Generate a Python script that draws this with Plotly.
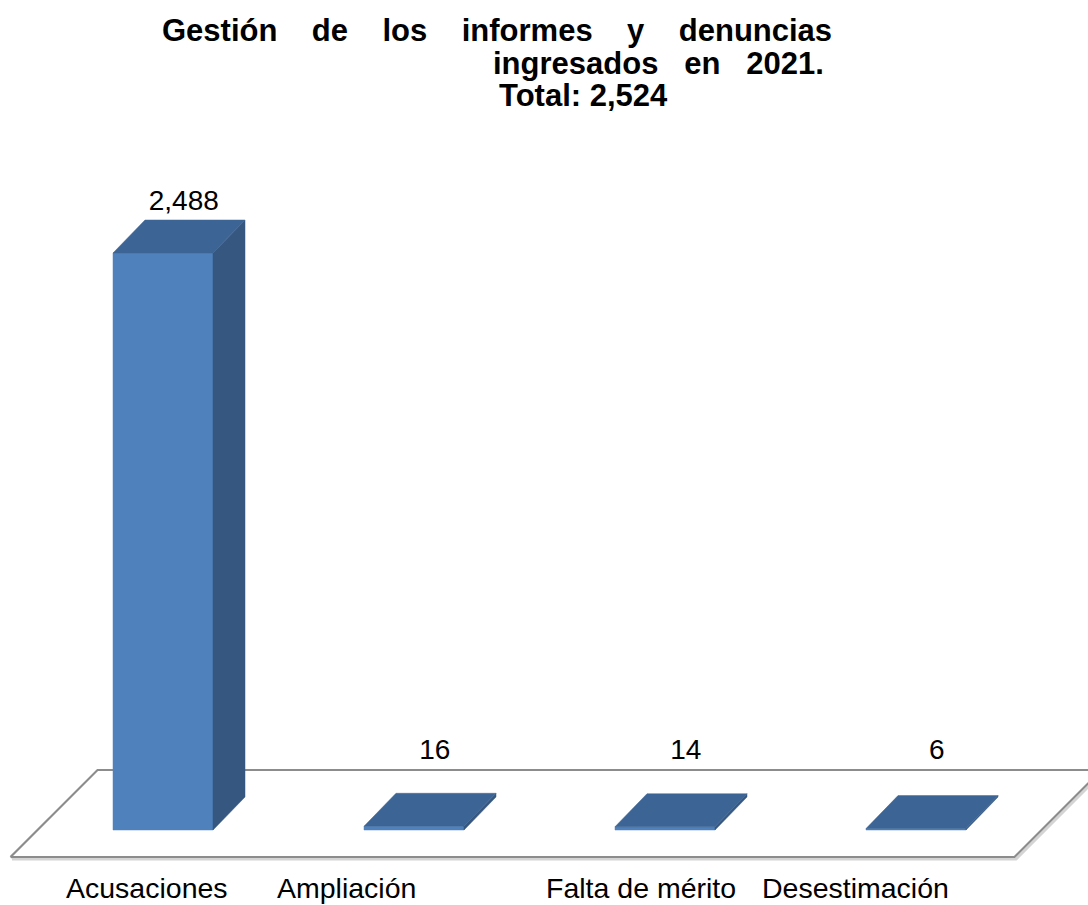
import plotly.graph_objects as go

# ---- data ----
categories = ["Acusaciones", "Ampliación", "Falta de mérito", "Desestimación"]
values = [2488, 16, 14, 6]
value_labels = ["2,488", "16", "14", "6"]
title_lines = ["Gestión de los informes y denuncias", "ingresados en 2021.", "Total: 2,524"]

# ---- geometry / style (pixel-derived scales) ----
W, H = 1088, 905
PX_PER_X = 251.0          # pixels per category step
PX_PER_Y = 577.0 / 2488   # pixels per value unit
X0_PX, Y0_PX = 163.0, 830.0
xrange_ = [-X0_PX / PX_PER_X, (W - X0_PX) / PX_PER_X]
yrange_ = [-(H - Y0_PX) / PX_PER_Y, Y0_PX / PX_PER_Y]

def dxu(px):
    return px / PX_PER_X

def dyu(px):
    return px / PX_PER_Y

BAR_W = dxu(100)
DX, DY = dxu(32), dyu(33)

FRONT = "#4F81BD"
SIDE = "#36577F"
TOP = "#3C6494"
FONT = "Liberation Sans, Arial"

fig = go.Figure()

# floor
n = len(values)
f_front, f_back = -dyu(27), dyu(60)
fl, fr = -0.5 - dxu(27), (n - 0.5) - dxu(27)
fdx = dxu(87)
fx = [fl, fr, fr + fdx, fl + fdx, fl]
fy = [f_front, f_front, f_back, f_back, f_front]
# soft shadow
fig.add_trace(go.Scatter(x=[v + dxu(1.5) for v in fx], y=[v - dyu(2) for v in fy], mode="lines",
                         line=dict(color="#D4D4D4", width=3), hoverinfo="skip", showlegend=False))
fig.add_trace(go.Scatter(x=fx, y=fy, mode="lines", fill="toself", fillcolor="white",
                         line=dict(color="#8C8C8C", width=2.2), hoverinfo="skip", showlegend=False))

for i, v in enumerate(values):
    xl, xr = i - BAR_W / 2, i + BAR_W / 2
    # front
    fig.add_trace(go.Scatter(x=[xl, xr, xr, xl, xl], y=[0, 0, v, v, 0], mode="lines", fill="toself",
                             fillcolor=FRONT, line=dict(color=FRONT, width=0.5),
                             hoverinfo="skip", showlegend=False))
    # side
    fig.add_trace(go.Scatter(x=[xr, xr + DX, xr + DX, xr, xr], y=[0, DY, v + DY, v, 0], mode="lines",
                             fill="toself", fillcolor=SIDE, line=dict(color=SIDE, width=0.5),
                             hoverinfo="skip", showlegend=False))
    # top
    fig.add_trace(go.Scatter(x=[xl, xr, xr + DX, xl + DX, xl], y=[v, v, v + DY, v + DY, v], mode="lines",
                             fill="toself", fillcolor=TOP, line=dict(color=TOP, width=0.5),
                             hoverinfo="skip", showlegend=False))

# value labels
lab_x = [i + DX * 0.65 for i in range(n)]
lab_y = [max(v + DY + dyu(17), f_back + dyu(18)) for v in values]
fig.add_trace(go.Scatter(x=lab_x, y=lab_y, mode="text", text=value_labels,
                         textfont=dict(family=FONT, size=28, color="black"),
                         hoverinfo="skip", showlegend=False))

# category labels
cat_shift_px = [-16, -68, -24, -61]
for i, c in enumerate(categories):
    fig.add_annotation(x=i + dxu(cat_shift_px[i]), y=-dyu(58), text=c, showarrow=False,
                       xanchor="center", yanchor="middle",
                       font=dict(family=FONT, size=28.5, color="black"))

# title (justified lines)
NB = "\u00a0"
def justify(s, k):
    return (NB * k).join(s.split(" "))

tfont = dict(family=FONT, size=31, color="black")
fig.add_annotation(xref="paper", yref="paper", x=160 / W, y=1 - 30 / H,
                   text="<b>" + justify(title_lines[0], 4) + "</b>",
                   showarrow=False, xanchor="left", yanchor="middle", font=tfont)
fig.add_annotation(xref="paper", yref="paper", x=826 / W, y=1 - 63 / H,
                   text="<b>" + justify(title_lines[1], 3) + "</b>",
                   showarrow=False, xanchor="right", yanchor="middle", font=tfont)
fig.add_annotation(xref="paper", yref="paper", x=497 / W, y=1 - 96 / H,
                   text="<b>" + title_lines[2] + "</b>",
                   showarrow=False, xanchor="left", yanchor="middle", font=tfont)

fig.update_layout(
    width=W, height=H, margin=dict(l=0, r=0, t=0, b=0),
    paper_bgcolor="white", plot_bgcolor="white",
    xaxis=dict(range=xrange_, visible=False, fixedrange=True),
    yaxis=dict(range=yrange_, visible=False, fixedrange=True),
    showlegend=False,
)
fig.write_html("out.html", config={"displayModeBar": False},
               post_script="document.body.style.margin='0';document.body.style.overflow='hidden';")
